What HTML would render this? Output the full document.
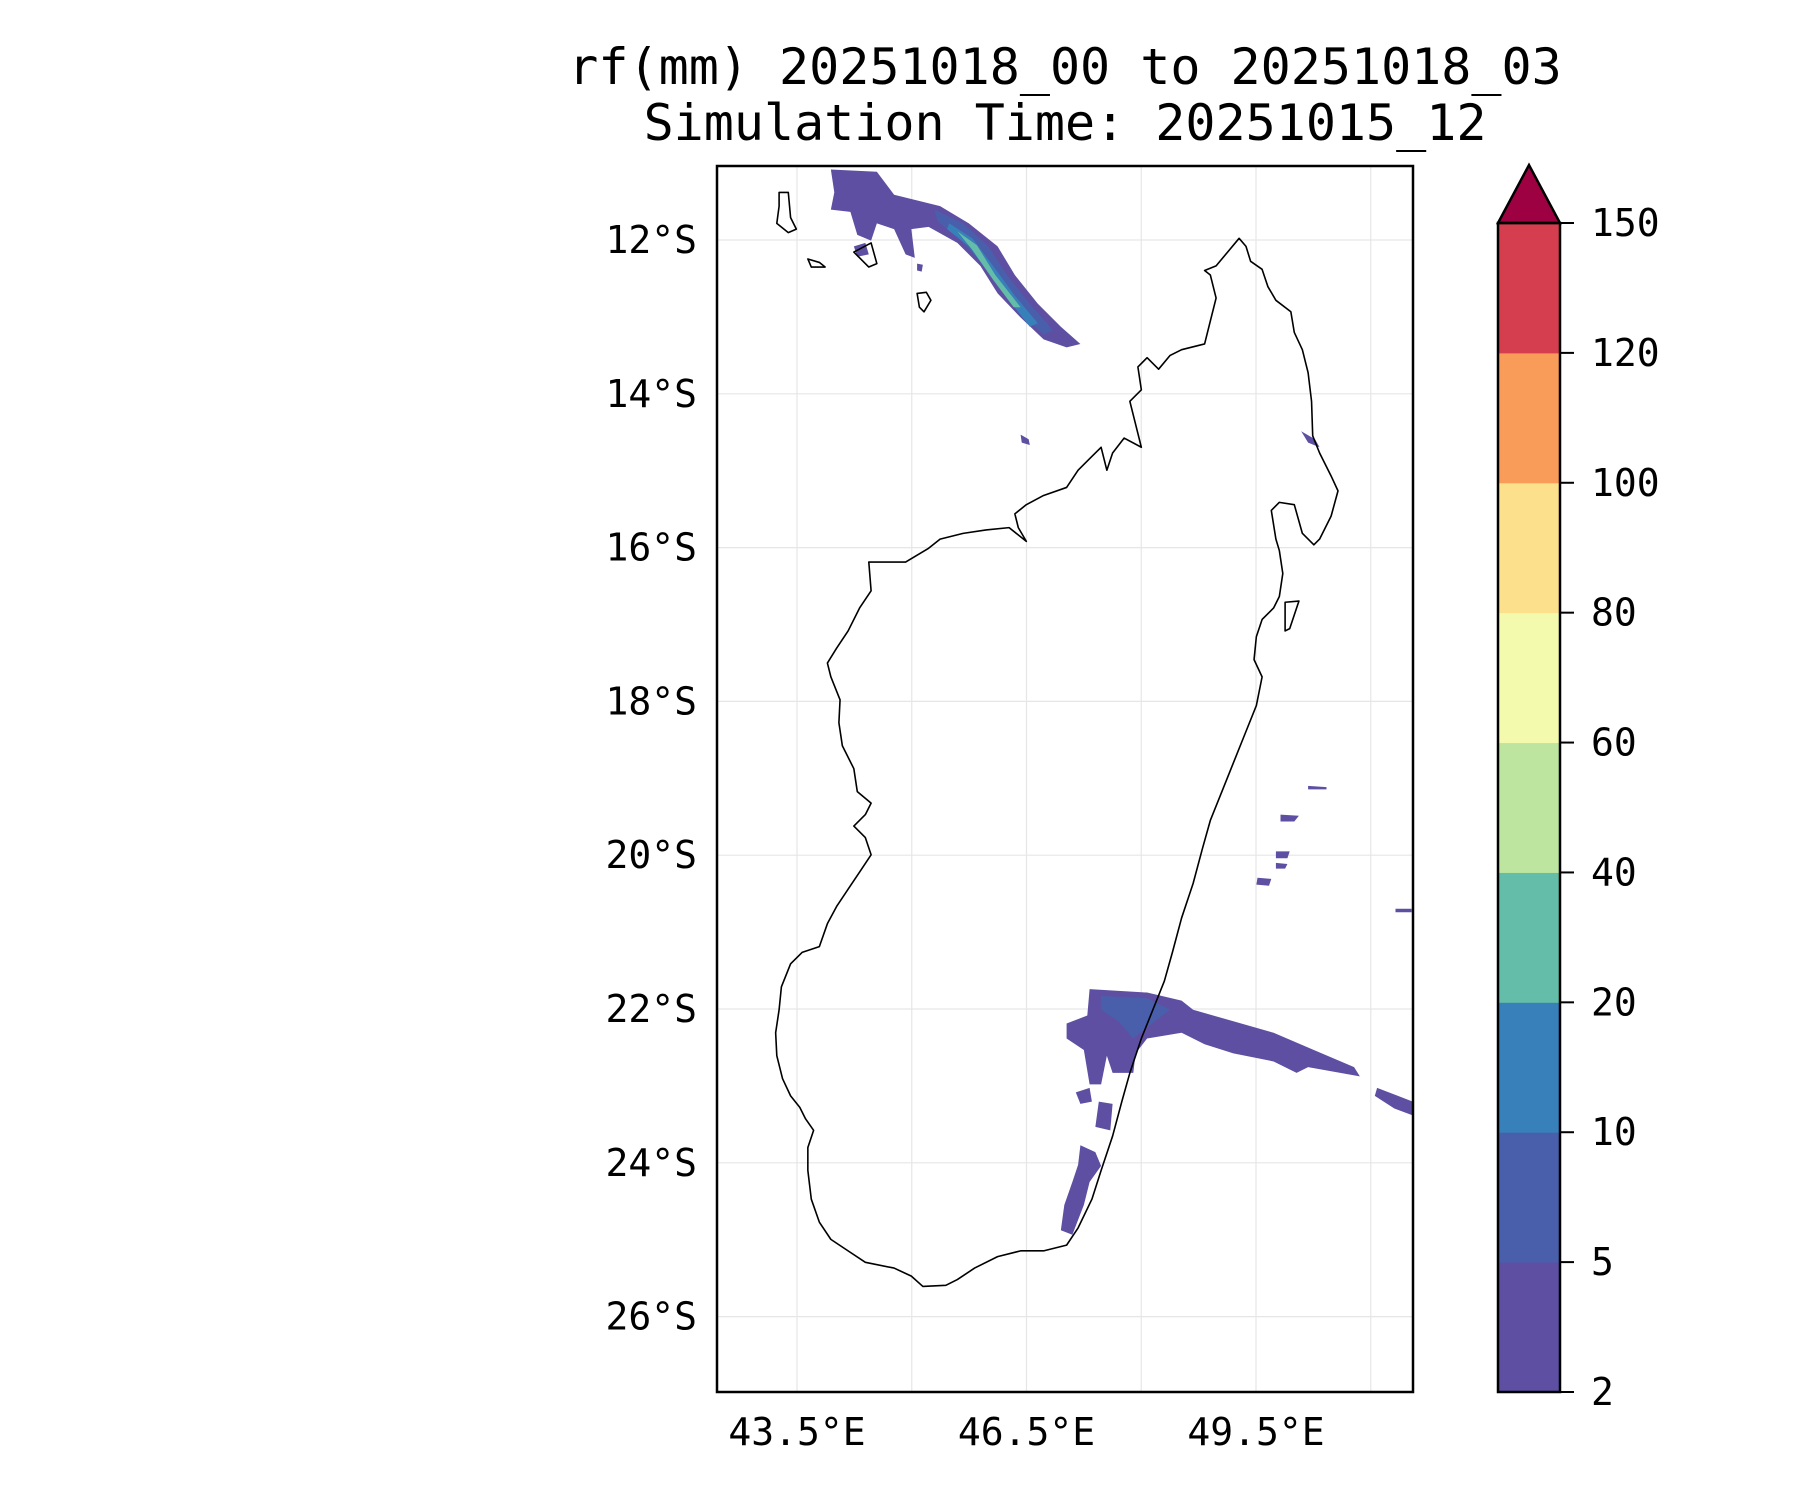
<!DOCTYPE html>
<html><head><meta charset="utf-8"><style>
html,body{margin:0;padding:0;background:#fff;}
svg{display:block;}
text{font-family:"DejaVu Sans Mono","Liberation Mono",monospace;fill:#000;}
</style></head><body>
<svg id="fig" width="1800" height="1500" viewBox="0 0 1800 1500">
<text x="1065" y="84" font-size="50" text-anchor="middle">rf(mm) 20251018_00 to 20251018_03</text>
<text x="1065" y="140" font-size="50" text-anchor="middle">Simulation Time: 20251015_12</text>
<g id="grid"></g>
<g id="rain"></g>
<g id="coast"></g>
<rect x="717" y="166" width="696" height="1226" fill="none" stroke="#000" stroke-width="2.5"/>
<g id="axes"></g>
<g id="cbar"></g>
</svg>
<script>
const NS="http://www.w3.org/2000/svg";
const latTicks=[12,14,16,18,20,22,24,26];
const lonTicks=[43.5,46.5,49.5];
const lonGrid=[43.5,45,46.5,48,49.5,51];
const levels=[2,5,10,20,40,60,80,100,120,150];
const levelColors=["#5e4fa2","#4a5fab","#3880b9","#63bda8","#bde5a0","#f3faad","#fde08c","#f99c5a","#d53e4f"];
const extendColor="#9e0142";
const X0=717,X1=1413,Y0=166,Y1=1392;
function lonX(l){return 797+(l-43.5)*76.5;}
function latY(s){return 240+(s-12)*76.9;}
function fx(x){return 717+(x-626)*1.15;}
function fy(y){return 166+(y-145)*1.148;}
function el(t,a,p){const e=document.createElementNS(NS,t);for(const k in a)e.setAttribute(k,a[k]);p.appendChild(e);return e;}
const grid=document.getElementById('grid');
lonGrid.forEach(l=>{const e=el('line',{x1:lonX(l),x2:lonX(l),y1:Y0,y2:Y1,stroke:'#e6e6e6','stroke-width':1.2},grid);

});
latTicks.forEach(s=>{const e=el('line',{x1:X0,x2:X1,y1:latY(s),y2:latY(s),stroke:'#e6e6e6','stroke-width':1.2},grid);

});
const axes=document.getElementById('axes');
latTicks.forEach(s=>{const t=el('text',{x:697,y:latY(s)+13,'font-size':38,'text-anchor':'end'},axes);t.textContent=s+'°S';

});
lonTicks.forEach(l=>{const t=el('text',{x:lonX(l),y:1445,'font-size':38,'text-anchor':'middle'},axes);t.textContent=l+'°E';

});
const blobs=[
[0,[[725,148],[765,150],[780,170],[820,180],[845,195],[870,215],[885,240],[905,265],[925,285],[942,300],[930,303],[910,296],[890,277],[870,256],[855,232],[835,212],[810,198],[795,200],[798,225],[790,222],[780,200],[765,195],[760,210],[748,205],[742,185],[725,183],[728,168]]],
[1,[[815,183],[840,195],[862,215],[878,240],[898,265],[918,288],[910,292],[892,275],[872,252],[855,228],[838,210],[818,193]]],
[2,[[828,195],[848,208],[866,232],[885,258],[905,282],[898,285],[880,262],[862,238],[845,215],[826,200]]],
[3,[[835,202],[852,214],[868,240],[890,268],[884,268],[866,244],[848,218]]],
[0,[[950,862],[1000,865],[1030,872],[1040,880],[1075,890],[1110,900],[1145,915],[1180,930],[1185,938],[1140,930],[1130,935],[1110,925],[1075,918],[1050,910],[1030,900],[1000,905],[990,918],[988,935],[970,935],[965,920],[960,945],[950,945],[945,915],[930,905],[930,892],[948,885]]],
[1,[[960,868],[1000,870],[1020,880],[1000,895],[988,905],[975,890],[960,880]]],
[0,[[938,952],[950,948],[952,960],[942,962]]],
[0,[[958,960],[970,962],[968,985],[955,982]]],
[0,[[942,998],[955,1004],[960,1016],[950,1030],[945,1050],[935,1076],[925,1072],[928,1050],[935,1030],[940,1015]]],
[0,[[1200,948],[1231,960],[1231,972],[1215,966],[1198,955]]],
[0,[[1116,710],[1132,711],[1128,716],[1116,716]]],
[0,[[1112,742],[1124,742],[1122,748],[1112,748]]],
[0,[[1096,765],[1108,766],[1106,772],[1095,771]]],
[0,[[1112,752],[1122,753],[1120,757],[1112,757]]],
[0,[[1140,685],[1156,686],[1156,688],[1140,688]]],
[0,[[1216,792],[1230,792],[1230,795],[1216,795]]],
[0,[[1134,376],[1146,383],[1150,390],[1140,386]]],
[0,[[890,379],[897,383],[898,388],[891,386]]],
[0,[[745,215],[755,212],[758,222],[748,224]]],
[0,[[800,230],[805,231],[804,237],[800,236]]]
];
const rain=document.getElementById('rain');
blobs.forEach(b=>{const p=el('polygon',{points:b[1].map(q=>fx(q[0])+','+fy(q[1])).join(' '),fill:levelColors[b[0]]},rain);

});
const coast=[[1080,208],[1086,215],[1090,228],[1100,235],[1105,250],[1112,262],[1125,272],[1128,290],[1135,305],[1140,325],[1143,350],[1144,380],[1150,395],[1160,415],[1166,428],[1160,450],[1150,470],[1145,475],[1135,465],[1128,440],[1115,438],[1108,445],[1112,470],[1115,480],[1118,500],[1115,520],[1110,530],[1100,540],[1095,555],[1093,575],[1100,590],[1095,615],[1085,640],[1075,665],[1065,690],[1055,715],[1048,740],[1040,770],[1030,800],[1022,830],[1015,855],[1005,880],[995,905],[985,935],[978,960],[970,990],[960,1020],[952,1045],[940,1070],[930,1085],[910,1090],[890,1090],[870,1095],[850,1105],[835,1115],[825,1120],[805,1121],[795,1112],[780,1105],[755,1100],[740,1090],[725,1080],[715,1065],[708,1045],[705,1020],[705,1000],[710,985],[703,975],[698,965],[690,955],[683,940],[678,920],[677,900],[680,880],[682,860],[690,840],[700,830],[715,825],[722,805],[730,790],[740,775],[750,760],[760,745],[755,730],[745,720],[755,710],[760,700],[748,690],[745,670],[735,650],[732,630],[733,610],[725,590],[722,578],[730,565],[740,550],[750,530],[760,515],[758,490],[790,490],[810,478],[820,470],[840,465],[860,462],[880,460],[895,472],[888,460],[885,448],[895,440],[910,432],[930,425],[940,410],[950,400],[960,390],[965,410],[970,395],[980,382],[995,390],[990,370],[985,350],[995,340],[992,320],[1000,312],[1010,322],[1020,310],[1030,305],[1050,300],[1055,280],[1060,260],[1055,240],[1050,236],[1060,232],[1070,220],[1080,208]];
const cg=document.getElementById('coast');
function cpoly(pts,name){const p=el('polygon',{points:pts.map(q=>fx(q[0])+','+fy(q[1])).join(' '),fill:'none',stroke:'#000','stroke-width':1.6,'stroke-linejoin':'round'},cg);

}
cpoly(coast,'madagascar-coastline');
cpoly([[680,168],[688,168],[690,190],[695,200],[688,203],[678,195],[680,180]],'grande-comore-coastline');
cpoly([[705,226],[715,229],[720,233],[708,233]],'moheli-coastline');
cpoly([[745,220],[760,212],[765,230],[758,233]],'anjouan-coastline');
cpoly([[800,256],[808,255],[812,262],[806,272],[802,268]],'mayotte-coastline');
cpoly([[1120,525],[1132,524],[1124,548],[1120,550]],'sainte-marie-coastline');
const cb=document.getElementById('cbar');
const CX=1498,CW=62,CT=223,CB=1392;
const bh=(CB-CT)/levelColors.length;
levelColors.forEach((c,i)=>{const r=el('rect',{x:CX,y:CB-(i+1)*bh,width:CW,height:bh+0.5,fill:c},cb);

});
const tri=el('polygon',{points:`${CX},${CT} ${CX+CW/2},165 ${CX+CW},${CT}`,fill:extendColor,stroke:'#000','stroke-width':2.5},cb);


const fr=el('rect',{x:CX,y:CT,width:CW,height:CB-CT,fill:'none',stroke:'#000','stroke-width':2.5},cb);


levels.forEach((v,i)=>{const y=CB-i*bh;
el('line',{x1:CX+CW,x2:CX+CW+14,y1:y,y2:y,stroke:'#000','stroke-width':2},cb);
const t=el('text',{x:1591,y:y+13,'font-size':38},cb);t.textContent=v;

});
</script>
</body></html>
